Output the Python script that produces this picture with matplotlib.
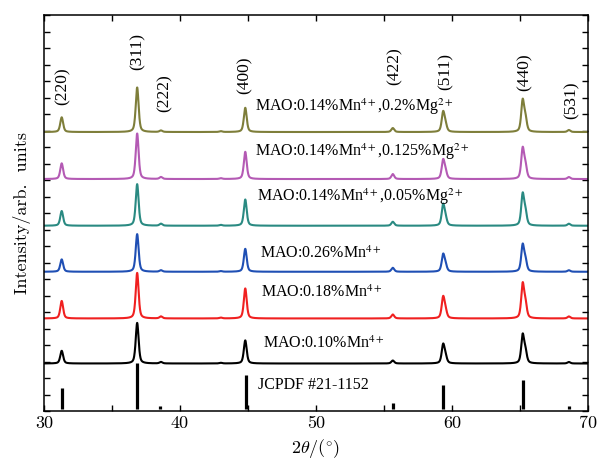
import numpy as np
import matplotlib
matplotlib.use("Agg")
import matplotlib.pyplot as plt
from matplotlib.ticker import MultipleLocator

# Posiciones de los picos (2theta) y alturas
pos_picos = [31.3, 36.85, 38.6, 43.0, 44.8, 55.65, 59.35, 59.52, 65.2, 65.4, 68.6]

muestras = ["MAO:0.10%Mn$^{\\mathrm{4+}}$",
            "MAO:0.18%Mn$^{\\mathrm{4+}}$",
            "MAO:0.26%Mn$^{\\mathrm{4+}}$",
            "MAO:0.14%Mn$^{\\mathrm{4+}}$,0.05%Mg$^{\\mathrm{2+}}$",
            "MAO:0.14%Mn$^{\\mathrm{4+}}$,0.125%Mg$^{\\mathrm{2+}}$",
            "MAO:0.14%Mn$^{\\mathrm{4+}}$,0.2%Mg$^{\\mathrm{2+}}$"]
colores = ["black", "#f02020", "#1f4fb4", "#2a8a82", "#b45ab4", "#7e7e3a"]
desplaz = [2.88, 5.61, 8.44, 11.23, 14.06, 16.91]

alturas = [
    [0.77, 2.46, 0.09, 0.04, 1.40, 0.18, 1.08, 0.40, 1.66, 0.70, 0.09],
    [1.06, 2.76, 0.12, 0.05, 1.82, 0.24, 1.22, 0.45, 2.00, 0.85, 0.12],
    [0.75, 2.28, 0.09, 0.04, 1.39, 0.24, 0.98, 0.38, 1.56, 0.65, 0.09],
    [0.89, 2.52, 0.12, 0.05, 1.59, 0.24, 1.20, 0.44, 1.84, 0.78, 0.12],
    [0.95, 2.76, 0.12, 0.05, 1.65, 0.30, 1.08, 0.42, 1.78, 0.76, 0.12],
    [0.89, 2.70, 0.09, 0.05, 1.47, 0.24, 1.14, 0.42, 1.84, 0.78, 0.12],
]

# Tarjeta JCPDF #21-1152
pos_jcpdf = [31.3, 36.85, 38.55, 44.83, 55.65, 59.35, 65.24, 68.6]
alt_jcpdf = [1.27, 2.79, 0.18, 2.06, 0.36, 1.45, 1.76, 0.18]

hkl = ["(220)", "(311)", "(222)", "(400)", "(422)", "(511)", "(440)", "(531)"]
hkl_x = [31.4, 36.9, 38.9, 44.78, 55.8, 59.56, 65.37, 68.82]
hkl_y = [19.7, 21.76, 19.27, 20.36, 20.9, 20.55, 20.55, 18.85]

etiq_x = [46.1, 45.93, 45.9, 45.66, 45.5, 45.5]
etiq_y = [4.06, 7.17, 9.52, 12.97, 15.7, 18.42]


def perfil(x, pos, alt, w=0.25):
    y = np.zeros_like(x)
    for p, h in zip(pos, alt):
        d = (x - p) / (w / 2)
        y += h * (0.5 / (1 + d ** 2) + 0.5 * np.exp(-np.log(2) * d ** 2))
    return y


x = np.linspace(30, 70, 4001)

fig = plt.figure(figsize=(5.99, 4.70), dpi=100)
ax = fig.add_axes([0.0735, 0.1255, 0.908, 0.8425])

for i in range(len(muestras)):
    y = desplaz[i] + perfil(x, pos_picos, alturas[i])
    ax.plot(x, y, color=colores[i], lw=1.5)
    ax.text(etiq_x[i], etiq_y[i], muestras[i], fontsize=11.5, family="Liberation Serif",
            math_fontfamily="stix", va="center", ha="left")

ax.vlines(pos_jcpdf, 0.1, np.array(alt_jcpdf) + 0.1, color="black", lw=2.3)
ax.text(45.7, 1.58, "JCPDF #21-1152", fontsize=11.5, family="Liberation Serif",
        va="center", ha="left")

for t, hx, hy in zip(hkl, hkl_x, hkl_y):
    ax.text(hx, hy, t, rotation=90, fontsize=12.5, family="Liberation Serif",
            ha="center", va="center")

ax.set_xlim(30, 70)
ax.set_ylim(0, 24)
ax.xaxis.set_major_locator(MultipleLocator(10))
ax.xaxis.set_minor_locator(MultipleLocator(5))
ax.yaxis.set_major_locator(MultipleLocator(1))
ax.set_yticklabels([])
ax.tick_params(which="both", direction="in", top=True, right=True, length=4, width=1)
for lab in ax.get_xticklabels():
    lab.set_fontfamily("cmr10")
    lab.set_fontsize(13)

ax.set_xlabel(r"$2\theta/(^{\circ})$", fontsize=13, math_fontfamily="cm")
ax.set_ylabel(r"Intensity/arb.  units", fontsize=13, family="cmr10", labelpad=6)
for s in ax.spines.values():
    s.set_linewidth(1.1)

fig.savefig("out.png", dpi=100)
